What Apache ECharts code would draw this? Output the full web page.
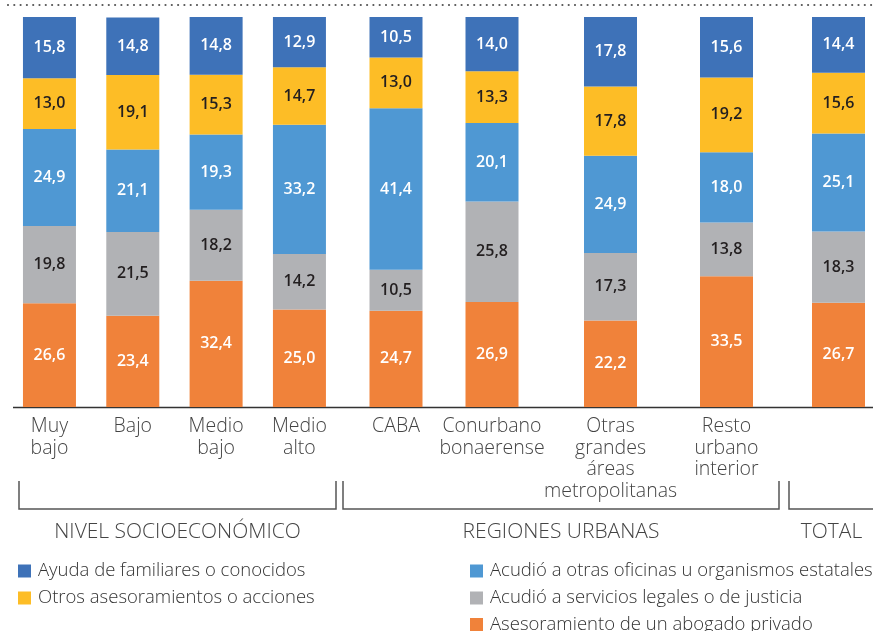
<!DOCTYPE html>
<html>
<head>
<meta charset="utf-8">
<title>Acciones ante el problema</title>
<script src="https://cdn.jsdelivr.net/npm/echarts@6/dist/echarts.min.js"></script>
<style>
  html, body { margin: 0; padding: 0; background: #fff; }
  #main { width: 873px; height: 631px; }
</style>
</head>
<body>
<div id="main"></div>
<script type="text/javascript">
// categorias (la ultima es TOTAL, sin etiqueta propia)
var categories = ['Muy\nbajo', 'Bajo', 'Medio\nbajo', 'Medio\nalto', 'CABA', 'Conurbano\nbonaerense',
    'Otras\ngrandes\náreas\nmetropolitanas', 'Resto\nurbano\ninterior', ''];

var ayuda = [15.8, 14.8, 14.8, 12.9, 10.5, 14.0, 17.8, 15.6, 14.4];
var otros = [13.0, 19.1, 15.3, 14.7, 13.0, 13.3, 17.8, 19.2, 15.6];
var oficinas = [24.9, 21.1, 19.3, 33.2, 41.4, 20.1, 24.9, 18.0, 25.1];
var servicios = [19.8, 21.5, 18.2, 14.2, 10.5, 25.8, 17.3, 13.8, 18.3];
var abogado = [26.6, 23.4, 32.4, 25.0, 24.7, 26.9, 22.2, 33.5, 26.7];

var groupTitles = ['NIVEL SOCIOECONÓMICO', 'REGIONES URBANAS', 'TOTAL'];

// de abajo hacia arriba en la pila
var seriesDefs = [
    { name: 'Asesoramiento de un abogado privado', data: abogado, color: '#f0823a', text: '#fff' },
    { name: 'Acudió a servicios legales o de justicia', data: servicios, color: '#b1b2b5', text: '#231f20' },
    { name: 'Acudió a otras oficinas u organismos estatales', data: oficinas, color: '#4f98d3', text: '#fff' },
    { name: 'Otros asesoramientos o acciones', data: otros, color: '#fdbd26', text: '#231f20' },
    { name: 'Ayuda de familiares o conocidos', data: ayuda, color: '#3e72b8', text: '#fff' }
];

// tramos de categorias por grilla (ubicacion de las barras)
var slices = [[0, 4], [4, 6], [6, 8], [8, 9]];
var gridBoxes = [
    { left: 7.8, width: 333.3 },
    { left: 348, width: 192 },
    { left: 552.5, width: 232 },
    { left: 804, width: 69 }
];

var FONT = '"Open Sans", Lato, sans-serif';
var grids = [], xAxes = [], yAxes = [], series = [];

slices.forEach(function (s, g) {
    grids.push({ left: gridBoxes[g].left, width: gridBoxes[g].width, top: 17, bottom: 224 });
    xAxes.push({
        type: 'category',
        gridIndex: g,
        data: categories.slice(s[0], s[1]),
        axisLine: { show: false },
        axisTick: { show: false },
        axisLabel: {
            interval: 0, margin: 9, fontSize: 19.5, lineHeight: 21.5,
            color: '#444', fontFamily: FONT, fontWeight: 300, hideOverlap: false
        }
    });
    yAxes.push({ type: 'value', gridIndex: g, min: 0, max: 100, show: false });
    seriesDefs.forEach(function (d) {
        series.push({
            name: d.name,
            type: 'bar',
            xAxisIndex: g,
            yAxisIndex: g,
            stack: 'g' + g,
            barWidth: 53,
            itemStyle: { color: d.color },
            label: {
                show: true, position: 'inside', color: d.text,
                fontSize: 16, fontWeight: 600, fontFamily: FONT,
                formatter: function (p) { return p.value.toFixed(1).replace('.', ','); }
            },
            emphasis: { disabled: true },
            data: d.data.slice(s[0], s[1])
        });
    });
});

var legendText = { fontSize: 18.5, color: '#333', fontFamily: FONT, fontWeight: 300, padding: [0, 0, 0, 2] };

// una leyenda por fila: [nombre, izquierda, arriba]
var legendRows = [
    ['Ayuda de familiares o conocidos', 18, 561.5],
    ['Otros asesoramientos o acciones', 18, 588.5],
    ['Acudió a otras oficinas u organismos estatales', 470, 561.5],
    ['Acudió a servicios legales o de justicia', 470, 588.5],
    ['Asesoramiento de un abogado privado', 470, 615]
];
var legends = legendRows.map(function (r) {
    return {
        orient: 'horizontal', left: r[1], top: r[2], padding: 0,
        itemWidth: 13, itemHeight: 13, icon: 'rect', textStyle: legendText, data: [r[0]]
    };
});

var bracketStyle = { stroke: '#555', lineWidth: 1.5, fill: null };
var titleStyle = { fontSize: 21, fill: '#444', fontFamily: FONT, fontWeight: 300, align: 'center', verticalAlign: 'middle' };

var option = {
    animation: false,
    grid: grids,
    xAxis: xAxes,
    yAxis: yAxes,
    legend: legends,
    graphic: [
        { type: 'line', shape: { x1: 8, y1: 5, x2: 873, y2: 5 },
          style: { stroke: '#555', lineWidth: 2.2, lineDash: [0, 6.3], lineCap: 'round' } },
        { type: 'line', shape: { x1: 13, y1: 407.5, x2: 873, y2: 407.5 },
          style: { stroke: '#333', lineWidth: 1.6 } },
        { type: 'polyline', shape: { points: [[19, 481], [19, 509], [336, 509], [336, 481]] }, style: bracketStyle },
        { type: 'polyline', shape: { points: [[343, 481], [343, 509], [779, 509], [779, 481]] }, style: bracketStyle },
        { type: 'polyline', shape: { points: [[789, 481], [789, 509], [873, 509]] }, style: bracketStyle },
        { type: 'text', x: 177.5, y: 532, style: Object.assign({ text: groupTitles[0] }, titleStyle) },
        { type: 'text', x: 561, y: 532, style: Object.assign({ text: groupTitles[1] }, titleStyle) },
        { type: 'text', x: 831.5, y: 532, style: Object.assign({ text: groupTitles[2] }, titleStyle) }
    ],
    series: series
};

var myChart = echarts.init(document.getElementById('main'));
myChart.setOption(option);
</script>
</body>
</html>
